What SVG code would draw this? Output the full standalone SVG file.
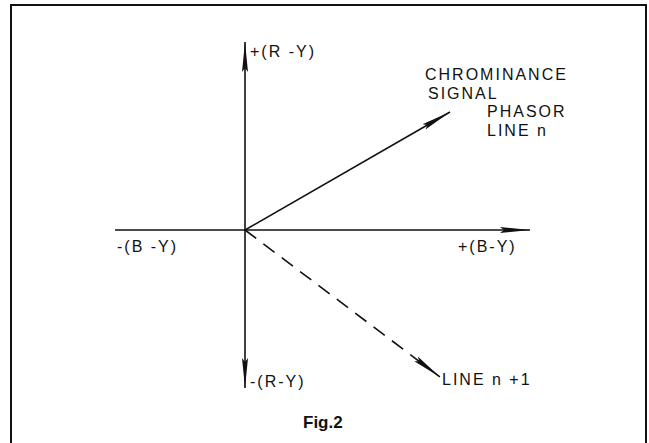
<svg xmlns="http://www.w3.org/2000/svg" width="649" height="443" viewBox="0 0 649 443">
<style>
.t{font-family:"Liberation Sans",Arial,sans-serif;font-size:16px;fill:#111;letter-spacing:2px}
.ax{stroke:#111;stroke-width:1.6;fill:none}
.fig{font-family:"Liberation Sans",Arial,sans-serif;font-size:17px;font-weight:bold;fill:#111}
</style>
<defs>
<marker id="ah" viewBox="0 0 30 8" refX="30" refY="4" markerWidth="30" markerHeight="8" markerUnits="userSpaceOnUse" orient="auto">
<path d="M0,1 L30,4 L0,7 L4,4 Z" fill="#111"/>
</marker>
</defs>
<rect x="11" y="5" width="635" height="445" fill="#fff" stroke="#111" stroke-width="2"/>
<g id="connectors">
<line class="ax" x1="245" y1="230" x2="245" y2="42" marker-end="url(#ah)"/>
<line class="ax" x1="245" y1="230" x2="245" y2="388" marker-end="url(#ah)"/>
<line class="ax" x1="115" y1="230" x2="530" y2="230" marker-end="url(#ah)"/>
<line class="ax" x1="245" y1="230" x2="450" y2="112" marker-end="url(#ah)"/>
<line class="ax" x1="245" y1="230" x2="440" y2="377" stroke-dasharray="14,9" marker-end="url(#ah)"/>
</g>
<g id="n-ry-pos"><text class="t" x="250" y="57">+(R -Y)</text></g>
<g id="n-ry-neg"><text class="t" x="250" y="387">-(R-Y)</text></g>
<g id="n-by-neg"><text class="t" x="117" y="252">-(B -Y)</text></g>
<g id="n-by-pos"><text class="t" x="458" y="252">+(B-Y)</text></g>
<g id="n-phasor">
<text class="t" x="425" y="80">CHROMINANCE</text>
<text class="t" x="428" y="98.5">SIGNAL</text>
<text class="t" x="487" y="117">PHASOR</text>
<text class="t" x="487" y="135.5">LINE n</text>
</g>
<g id="n-line1"><text class="t" x="442" y="385">LINE n +1</text></g>
<g id="n-fig"><text class="fig" x="303" y="428">Fig.2</text></g>
</svg>
